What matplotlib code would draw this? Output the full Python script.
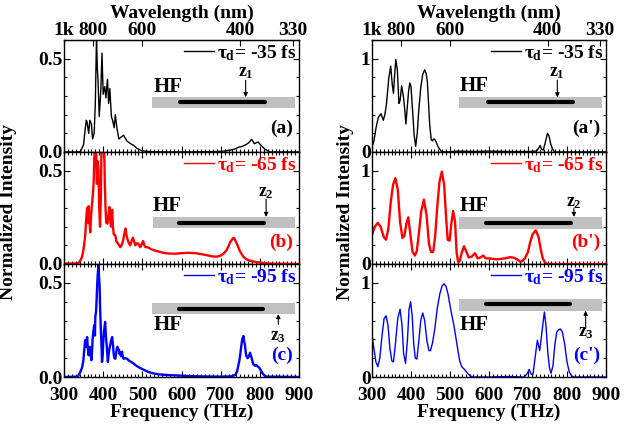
import matplotlib
matplotlib.use("Agg")
import matplotlib.pyplot as plt
from matplotlib.patches import Rectangle
from matplotlib.ticker import MultipleLocator, FixedLocator

plt.rcParams['font.family'] = ['Liberation Serif', 'DejaVu Serif']
plt.rcParams['font.weight'] = 'bold'
plt.rcParams['mathtext.fontset'] = 'custom'
plt.rcParams['mathtext.rm'] = 'Liberation Serif:bold'
plt.rcParams['mathtext.it'] = 'Liberation Serif:bold'
plt.rcParams['mathtext.bf'] = 'Liberation Serif:bold'

# ---------------- data (frequency in THz, normalized intensity) ----------------
# Experimental spectra (left column)
exp_a_freq = [300, 330, 342, 350, 354, 357, 359, 363, 366, 370, 373, 377, 380, 383, 385, 387, 390, 394,
              397, 400, 404, 407, 411, 414, 417, 421, 424, 428, 431, 435, 440, 446, 452, 461, 469, 478,
              486, 499, 520, 560, 620, 680, 710, 724, 735, 745, 755, 765, 772, 779, 783, 786, 791, 796,
              801, 806, 813, 826, 900]
exp_a_int = [0.0, 0.0, 0.002, 0.04, 0.12, 0.17, 0.16, 0.10, 0.17, 0.15, 0.07, 0.10, 0.26, 0.62, 0.45,
             0.38, 0.19, 0.33, 0.53, 0.31, 0.35, 0.29, 0.39, 0.26, 0.34, 0.19, 0.17, 0.13, 0.2, 0.13,
             0.07, 0.08, 0.09, 0.058, 0.046, 0.035, 0.02, 0.006, 0.002, 0.0, 0.0, 0.002, 0.005, 0.01,
             0.015, 0.025, 0.03, 0.04, 0.05, 0.068, 0.055, 0.044, 0.05, 0.053, 0.04, 0.03, 0.015, 0.0, 0.0]

exp_b_freq = [300, 330, 337, 342, 346, 350, 354, 357, 359, 361, 363, 365, 367, 369, 371, 374, 376, 378,
              380, 382, 384, 386, 388, 390, 392, 394, 396, 398, 400, 402, 404, 406, 408, 411, 414, 416,
              418, 420, 423, 425, 427, 431, 434, 438, 441, 444, 447, 451, 454, 457, 460, 463, 466, 469,
              472, 476, 479, 482, 485, 489, 492, 495, 499, 502, 505, 508, 512, 516, 522, 528, 535, 542,
              550, 559, 570, 584, 600, 618, 635, 650, 665, 680, 692, 700, 707, 715, 720, 724, 728, 731,
              734, 737, 741, 745, 749, 754, 758, 764, 771, 780, 792, 810, 826, 900]
exp_b_int = [0.002, 0.003, 0.005, 0.02, 0.037, 0.08, 0.15, 0.25, 0.30, 0.22, 0.31, 0.23, 0.17, 0.25,
             0.31, 0.38, 0.45, 0.62, 0.70, 0.62, 0.43, 0.55, 0.50, 0.30, 0.20, 0.35, 0.68, 0.70, 0.66,
             0.70, 0.45, 0.30, 0.22, 0.216, 0.27, 0.305, 0.24, 0.20, 0.29, 0.20, 0.16, 0.153, 0.12,
             0.109, 0.10, 0.09, 0.10, 0.126, 0.16, 0.19, 0.15, 0.126, 0.11, 0.10, 0.12, 0.141, 0.12,
             0.10, 0.11, 0.11, 0.10, 0.09, 0.11, 0.123, 0.10, 0.09, 0.09, 0.087, 0.08, 0.075, 0.07,
             0.067, 0.062, 0.058, 0.056, 0.055, 0.058, 0.06, 0.058, 0.053, 0.047, 0.04, 0.04, 0.045,
             0.055, 0.074, 0.095, 0.116, 0.128, 0.137, 0.14, 0.128, 0.11, 0.09, 0.069, 0.052, 0.039,
             0.028, 0.02, 0.015, 0.01, 0.005, 0.002, 0.0]

exp_c_freq = [300, 335, 342, 346, 349, 352, 354, 356, 359, 361, 363, 366, 368, 370, 372, 373, 375, 377,
              379, 380, 382, 383, 385, 386, 388, 389, 391, 392, 394, 396, 397, 399, 400, 402, 405, 407,
              409, 412, 414, 416, 419, 421, 423, 425, 427, 429, 431, 434, 436, 438, 440, 442, 444, 446,
              448, 450, 452, 456, 461, 465, 469, 473, 478, 482, 486, 491, 495, 500, 504, 508, 512, 518,
              525, 533, 542, 555, 567, 590, 618, 650, 700, 725, 737, 742, 745, 748, 750, 753, 755, 758,
              760, 762, 764, 766, 769, 772, 775, 777, 779, 781, 783, 786, 788, 790, 792, 795, 799, 803,
              807, 810, 814, 818, 900]
exp_c_int = [0.0, 0.002, 0.027, 0.05, 0.08, 0.15, 0.195, 0.16, 0.212, 0.15, 0.115, 0.16, 0.12, 0.089,
             0.15, 0.20, 0.24, 0.275, 0.22, 0.32, 0.35, 0.40, 0.50, 0.54, 0.593, 0.55, 0.48, 0.38, 0.257,
             0.15, 0.08, 0.12, 0.18, 0.24, 0.292, 0.22, 0.17, 0.08, 0.12, 0.15, 0.18, 0.20, 0.212, 0.17,
             0.12, 0.10, 0.097, 0.14, 0.16, 0.15, 0.145, 0.12, 0.13, 0.11, 0.135, 0.11, 0.097, 0.10,
             0.097, 0.088, 0.083, 0.078, 0.071, 0.064, 0.058, 0.052, 0.047, 0.042, 0.038, 0.034, 0.03,
             0.025, 0.021, 0.017, 0.014, 0.012, 0.01, 0.008, 0.005, 0.003, 0.002, 0.003, 0.01, 0.03,
             0.06, 0.09, 0.12, 0.17, 0.20, 0.218, 0.19, 0.17, 0.13, 0.11, 0.10, 0.11, 0.129, 0.115, 0.10,
             0.085, 0.07, 0.062, 0.06, 0.064, 0.062, 0.055, 0.048, 0.033, 0.02, 0.012, 0.005, 0.002, 0.0]

# Simulated spectra (right column)
sim_a_freq = [300, 305, 310, 316, 323, 329, 333, 337, 343, 348, 352, 355, 358, 361, 365, 369, 372, 376,
              381, 384, 387, 391, 394, 397, 400, 403, 408, 412, 416, 420, 425, 430, 435, 439, 442, 445,
              448, 452, 455, 458, 462, 465, 469, 472, 478, 490, 520, 560, 600, 650, 700, 722, 727, 731,
              735, 739, 743, 747, 750, 754, 758, 762, 768, 800, 900]
sim_a_int = [0.05, 0.12, 0.25, 0.37, 0.41, 0.34, 0.40, 0.51, 0.79, 0.92, 0.72, 0.63, 0.82, 0.99, 0.88,
             0.52, 0.55, 0.71, 0.58, 0.45, 0.30, 0.51, 0.66, 0.74, 0.70, 0.51, 0.185, 0.06, 0.20, 0.45,
             0.69, 0.83, 0.88, 0.84, 0.75, 0.52, 0.29, 0.13, 0.12, 0.14, 0.13, 0.10, 0.06, 0.04, 0.005,
             0.0, 0.01, 0.005, 0.01, 0.005, 0.005, 0.01, 0.04, 0.07, 0.03, 0.02, 0.08, 0.15, 0.20, 0.17,
             0.09, 0.04, 0.0, 0.0, 0.0]

sim_b_freq = [300, 307, 315, 322, 330, 336, 342, 348, 354, 360, 366, 372, 378, 383, 388, 393, 398, 404,
              410, 415, 420, 426, 433, 440, 446, 451, 457, 462, 467, 473, 479, 485, 490, 494, 499, 503,
              508, 513, 517, 521, 525, 530, 536, 542, 548, 556, 564, 571, 578, 585, 592, 600, 610, 620,
              630, 640, 650, 657, 665, 672, 680, 685, 692, 700, 706, 712, 720, 727, 733, 738, 743, 748,
              760, 900]
sim_b_int = [0.31, 0.40, 0.44, 0.40, 0.29, 0.26, 0.38, 0.66, 0.85, 0.92, 0.80, 0.45, 0.28, 0.30, 0.43,
             0.50, 0.33, 0.13, 0.09, 0.14, 0.32, 0.56, 0.69, 0.52, 0.22, 0.13, 0.13, 0.30, 0.60, 0.88,
             0.99, 0.85, 0.50, 0.26, 0.25, 0.42, 0.57, 0.45, 0.12, 0.02, 0.03, 0.12, 0.19, 0.13, 0.07,
             0.08, 0.115, 0.06, 0.07, 0.09, 0.06, 0.06, 0.055, 0.05, 0.055, 0.06, 0.07, 0.073, 0.065,
             0.05, 0.025, 0.03, 0.06, 0.13, 0.24, 0.32, 0.36, 0.29, 0.15, 0.06, 0.02, 0.0, 0.0, 0.0]

sim_c_freq = [300, 305, 310, 315, 320, 326, 331, 336, 341, 346, 351, 355, 360, 366, 372, 377, 381, 386,
              391, 395, 399, 403, 407, 411, 415, 420, 425, 430, 435, 441, 446, 450, 455, 461, 467, 474,
              480, 485, 490, 495, 500, 505, 510, 515, 520, 525, 530, 537, 545, 552, 558, 600, 650, 690,
              697, 703, 708, 713, 718, 724, 730, 735, 742, 746, 751, 755, 759, 764, 769, 774, 778, 783,
              788, 794, 800, 806, 812, 818, 900]
sim_c_int = [0.45, 0.30, 0.16, 0.11, 0.20, 0.45, 0.62, 0.65, 0.55, 0.30, 0.17, 0.16, 0.35, 0.62, 0.72,
             0.55, 0.25, 0.145, 0.40, 0.72, 0.80, 0.65, 0.35, 0.20, 0.19, 0.38, 0.60, 0.68, 0.60, 0.38,
             0.28, 0.28, 0.36, 0.51, 0.72, 0.885, 0.97, 0.99, 0.96, 0.88, 0.76, 0.65, 0.55, 0.42, 0.29,
             0.17, 0.11, 0.08, 0.04, 0.01, 0.0, 0.0, 0.005, 0.0, 0.03, 0.08, 0.03, 0.03, 0.20, 0.39,
             0.28, 0.45, 0.69, 0.55, 0.25, 0.10, 0.04, 0.12, 0.35, 0.48, 0.50, 0.51, 0.48, 0.35, 0.16,
             0.05, 0.01, 0.0, 0.0]

delays = ['-35', '-65', '-95']
colors = ['black', '#ff0000', '#0000ff']
labels_left = ['(a)', '(b)', '(c)']
labels_right = ["(a')", "(b')", "(c')"]
z_labels = ['$z_1$', '$z_2$', '$z_3$']
wl_tick_freq = [300, 375, 500, 750, 885]
wl_tick_labels = ['1k', '800', '600', '400', '330']
freq_ticks = [300, 400, 500, 600, 700, 800, 900]

exp_data = [(exp_a_freq, exp_a_int), (exp_b_freq, exp_b_int), (exp_c_freq, exp_c_int)]
sim_data = [(sim_a_freq, sim_a_int), (sim_b_freq, sim_b_int), (sim_c_freq, sim_c_int)]

# ---------------- figure ----------------
W, H = 644, 424
fig = plt.figure(figsize=(W / 100, H / 100), dpi=100)

def fx(px):
    return px / W

def fy(py):
    return 1 - py / H

panel_px = [(40, 152), (152, 264), (264, 377)]
col_px = [(64, 299), (372, 606)]
FS = 14

# inset geometry (axes fraction)
insets_left = [
    dict(bar=(0.374, 0.393, 0.983, 0.49), line_y=0.446, line_x=(0.494, 0.855), hf=(0.383, 0.58),
         arrow_x=0.773, arrow=(0.64, 0.49), z=(0.773, 0.71)),
    dict(bar=(0.379, 0.32, 0.983, 0.42), line_y=0.366, line_x=(0.49, 0.851), hf=(0.379, 0.52),
         arrow_x=0.86, arrow=(0.58, 0.42), z=(0.86, 0.635)),
    dict(bar=(0.374, 0.557, 0.983, 0.657), line_y=0.60, line_x=(0.49, 0.847), hf=(0.383, 0.46),
         arrow_x=0.912, arrow=(0.465, 0.557), z=(0.912, 0.355)),
]
insets_right = [
    dict(bar=(0.373, 0.39, 0.982, 0.488), line_y=0.444, line_x=(0.497, 0.86), hf=(0.373, 0.585),
         arrow_x=0.792, arrow=(0.64, 0.488), z=(0.792, 0.71)),
    dict(bar=(0.373, 0.316, 0.982, 0.42), line_y=0.366, line_x=(0.486, 0.849), hf=(0.373, 0.52),
         arrow_x=0.863, arrow=(0.495, 0.42), z=(0.863, 0.55)),
    dict(bar=(0.373, 0.587, 0.982, 0.688), line_y=0.643, line_x=(0.486, 0.846), hf=(0.373, 0.46),
         arrow_x=0.913, arrow=(0.43, 0.587), z=(0.913, 0.395)),
]

for col in range(2):
    x0, x1 = col_px[col]
    for row in range(3):
        y0, y1 = panel_px[row]
        ax = fig.add_axes([fx(x0), fy(y1), fx(x1 - x0), (y1 - y0) / H])
        color = colors[row]
        if col == 0:
            fr, it = exp_data[row]
            lw = 1.0 if row == 0 else 1.7
            ax.plot(fr, it, color=color, lw=lw)
            ax.set_ylim(0, 0.6)
            ax.yaxis.set_major_locator(FixedLocator([0.0, 0.5]))
            ax.set_yticklabels(['0.0', '0.5'])
            ax.yaxis.set_minor_locator(MultipleLocator(0.1))
            ins = insets_left[row]
            panel_label = labels_left[row]
        else:
            fr, it = sim_data[row]
            lw = 1.0 if row == 0 else (1.7 if row == 1 else 1.0)
            ax.plot(fr, it, color=color, lw=lw)
            ax.set_ylim(0, 1.2)
            ax.yaxis.set_major_locator(FixedLocator([0, 1]))
            ax.set_yticklabels(['0', '1'])
            ax.yaxis.set_minor_locator(MultipleLocator(0.2))
            ins = insets_right[row]
            panel_label = labels_right[row]

        ax.set_xlim(300, 900)
        ax.xaxis.set_major_locator(FixedLocator(freq_ticks))
        ax.xaxis.set_minor_locator(MultipleLocator(10))
        ax.tick_params(which='both', direction='in', top=(row != 0), right=True, labelsize=FS,
                       width=0.8)
        ax.tick_params(which='major', length=4)
        ax.tick_params(axis='y', which='major', pad=1)
        ax.tick_params(axis='x', which='major', pad=7.2)
        ax.tick_params(which='minor', length=2)
        for sp in ax.spines.values():
            sp.set_linewidth(1.0)
        for lab in ax.get_xticklabels() + ax.get_yticklabels():
            lab.set_fontweight('bold')
        if row < 2:
            ax.tick_params(axis='x', labelbottom=False)
        else:
            ax.set_xticklabels([str(v) for v in freq_ticks])
            ax.set_xlabel('Frequency (THz)', fontsize=FS, fontweight='bold', labelpad=0)

        if row == 0:
            sec = ax.secondary_xaxis('top')
            sec.set_xticks(wl_tick_freq)
            sec.set_xticklabels(wl_tick_labels)
            sec.tick_params(direction='in', length=4, labelsize=FS, pad=1)
            for lab in sec.get_xticklabels():
                lab.set_fontweight('bold')
            sec.set_xlabel('Wavelength (nm)', fontsize=FS, fontweight='bold', labelpad=2.5)

        # legend
        leg = ax.legend([ax.lines[0]], [r'$\tau_d$= ' + delays[row] + ' fs'], loc='upper right',
                        frameon=False, fontsize=FS, handlelength=1.5, handletextpad=0.15,
                        borderaxespad=0.05, borderpad=0.1)
        for t in leg.get_texts():
            t.set_color(color)
            t.set_fontweight('bold')
        for h in leg.get_lines():
            h.set_linewidth(1.0)

        # panel label
        ly = 0.215 if row == 0 else 0.19
        ax.text(0.975, ly, panel_label, transform=ax.transAxes, ha='right', va='center',
                fontsize=FS, fontweight='bold', color=color)

        # fiber inset
        bx0, by0, bx1, by1 = ins['bar']
        ax.add_patch(Rectangle((bx0, by0), bx1 - bx0, by1 - by0, transform=ax.transAxes,
                               facecolor='#c0c0c0', edgecolor='none', zorder=3))
        ax.plot(ins['line_x'], [ins['line_y'], ins['line_y']], transform=ax.transAxes,
                color='black', lw=3, solid_capstyle='round', zorder=4)
        ax.text(ins['hf'][0], ins['hf'][1], 'HF', transform=ax.transAxes, ha='left', va='center',
                fontsize=15, fontweight='bold', zorder=5)
        ax.annotate('', xy=(ins['arrow_x'], ins['arrow'][1]), xytext=(ins['arrow_x'], ins['arrow'][0]),
                    xycoords='axes fraction', textcoords='axes fraction',
                    arrowprops=dict(arrowstyle='-|>', color='black', lw=0.8, mutation_scale=6,
                                    shrinkA=0, shrinkB=0), zorder=5)
        ax.text(ins['z'][0], ins['z'][1], z_labels[row], transform=ax.transAxes, ha='center',
                va='center', fontsize=13, fontweight='bold', zorder=5)

fig.text(fx(9), fy(212), 'Normalized Intensity', rotation=90, ha='center', va='center',
         fontsize=FS, fontweight='bold')
fig.text(fx(345), fy(212), 'Normalized Intensity', rotation=90, ha='center', va='center',
         fontsize=FS, fontweight='bold')

fig.savefig('out.png', dpi=100)
